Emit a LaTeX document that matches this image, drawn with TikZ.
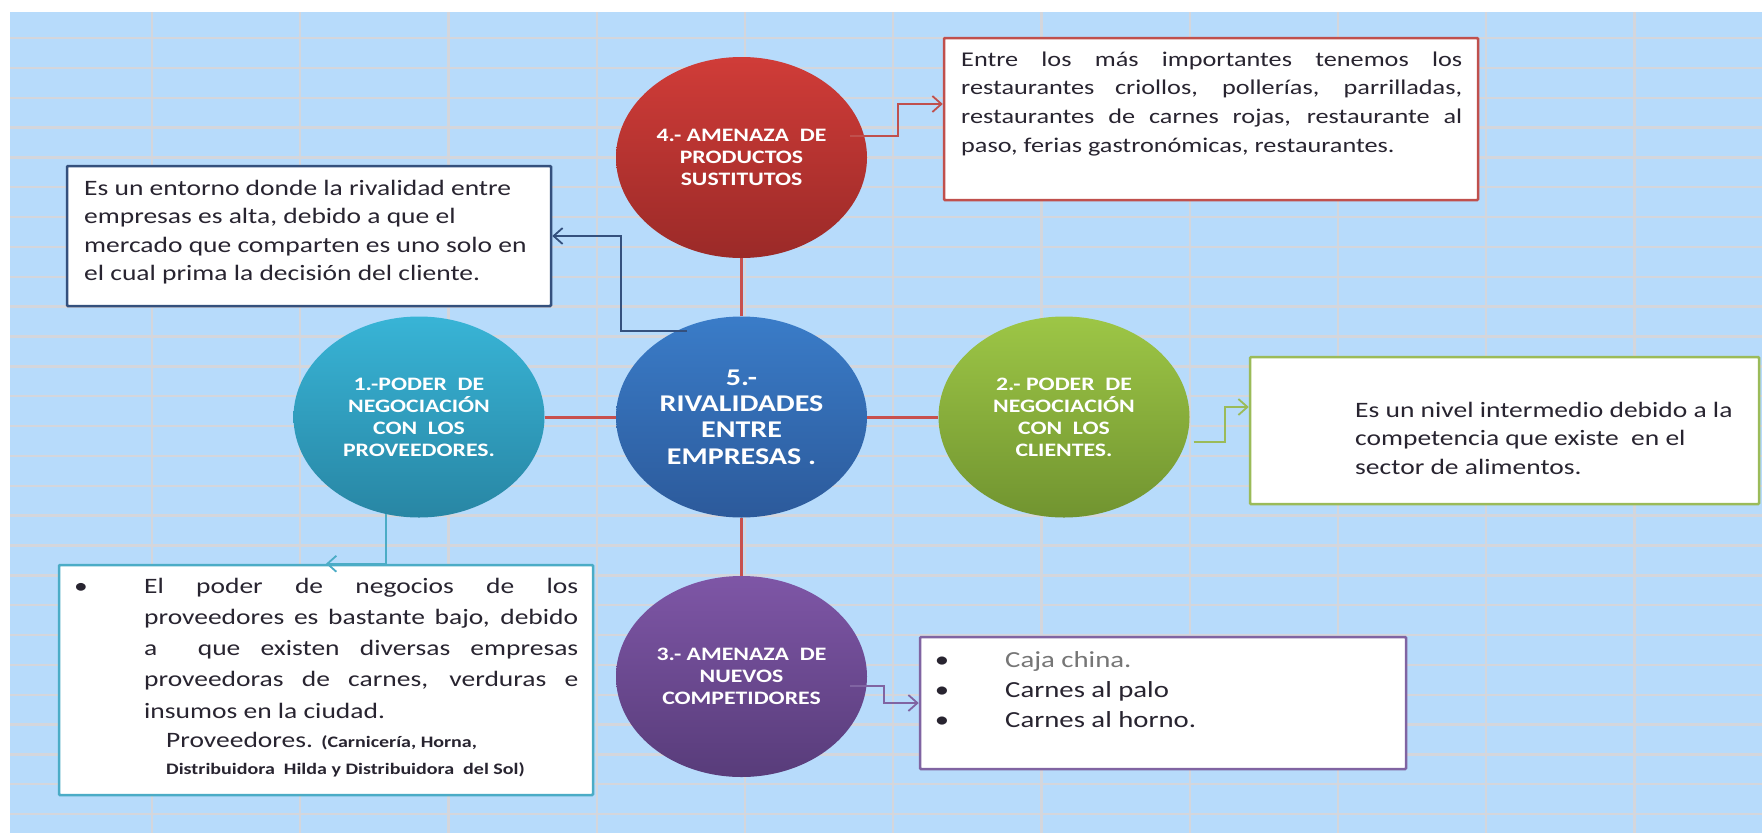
\documentclass[tikz,border=0pt]{standalone}
\usepackage{fontspec}
\setmainfont{Carlito}[FakeStretch=1.25]
\usetikzlibrary{shapes.geometric,arrows.meta,calc}

\definecolor{sheet}{RGB}{183,219,251}
\definecolor{gridgray}{RGB}{212,214,220}
\definecolor{ink}{RGB}{40,36,48}
\definecolor{softgray}{RGB}{118,118,118}
\definecolor{spokered}{RGB}{200,80,77}
\definecolor{redline}{RGB}{192,80,77}
\definecolor{navyline}{RGB}{52,80,125}
\definecolor{tealline}{RGB}{75,172,198}
\definecolor{greenline}{RGB}{155,187,89}
\definecolor{purpleline}{RGB}{128,100,162}
\definecolor{redtop}{RGB}{208,60,56}
\definecolor{redbot}{RGB}{155,42,40}
\definecolor{bluetop}{RGB}{58,124,200}
\definecolor{bluebot}{RGB}{44,90,155}
\definecolor{tealtop}{RGB}{56,180,214}
\definecolor{tealbot}{RGB}{40,134,164}
\definecolor{greentop}{RGB}{157,198,70}
\definecolor{greenbot}{RGB}{113,148,48}
\definecolor{purptop}{RGB}{126,86,166}
\definecolor{purpbot}{RGB}{88,60,122}

\tikzset{
  gridline/.style={draw=gridgray, line width=2.4pt},
  ball/.style={ellipse, minimum width=251pt, minimum height=201pt, inner sep=0pt,
    align=center, text=white, font=\bfseries\fontsize{19}{22}\selectfont},
  card/.style={draw=#1, line width=2.5pt, fill=white, rounded corners=1pt, inner sep=0pt},
  spoke/.style={draw=spokered, line width=3pt},
  link/.style={draw=#1, line width=1.8pt, -{Straight Barb[length=9pt,width=16pt]}},
  txt/.style={inner sep=0pt, text=ink, font=\fontsize{22}{28.5}\selectfont},
  small/.style={inner sep=0pt, text=ink, font=\bfseries\fontsize{16}{18}\selectfont},
}

\begin{document}
\begin{tikzpicture}[x=1pt,y=-1pt]
\useasboundingbox (0,0) rectangle (1762,833);

% spreadsheet background
\fill[white] (0,0) rectangle (1762,833);
\fill[sheet] (10,12) rectangle (1762,833);
\foreach \k in {0,...,10} {\draw[gridline] ({152+148.25*\k},12) -- ({152+148.25*\k},833);}
\foreach \k in {0,...,26} {\draw[gridline] (10,{38+29.85*\k}) -- (1762,{38+29.85*\k});}

% the five forces
\node[ball, top color=redtop, bottom color=redbot] (c4) at (741.5,157.5)
  {4.- AMENAZA~~DE\\PRODUCTOS\\SUSTITUTOS};
\node[ball, top color=bluetop, bottom color=bluebot,
  font=\bfseries\fontsize{24}{26.3}\selectfont] (c5) at (741.5,417)
  {5.-\\RIVALIDADES\\ENTRE\\EMPRESAS .};
\node[ball, top color=tealtop, bottom color=tealbot] (c1) at (419,417)
  {1.-PODER~~DE\\NEGOCIACIÓN\\CON~~LOS\\PROVEEDORES.};
\node[ball, top color=greentop, bottom color=greenbot] (c2) at (1064,417)
  {2.- PODER~~DE\\NEGOCIACIÓN\\CON~~LOS\\CLIENTES.};
\node[ball, top color=purptop, bottom color=purpbot] (c3) at (741.5,676.5)
  {3.- AMENAZA~~DE\\NUEVOS\\COMPETIDORES};

\draw[spoke] (c4) -- (c5);
\draw[spoke] (c1) -- (c5);
\draw[spoke] (c5) -- (c2);
\draw[spoke] (c5) -- (c3);

% description boxes
\node[card=redline, minimum width=534pt, minimum height=162pt] (b4) at (1211,119) {};
\node[card=navyline, minimum width=484pt, minimum height=140pt] (b5) at (309,236) {};
\node[card=greenline, minimum width=509pt, minimum height=147pt] (b2) at (1504.5,430.5) {};
\node[card=tealline, minimum width=534pt, minimum height=230pt] (b1) at (326,680) {};
\node[card=purpleline, minimum width=486pt, minimum height=132pt] (b3) at (1163,703) {};

% box texts
\node[txt, anchor=base west, font=\fontsize{21}{28.7}\selectfont] (t4) at (961,66)
  {\parbox[t]{505pt}{%
  \makebox[501pt][s]{Entre los más importantes tenemos los}\\
  \makebox[501pt][s]{restaurantes criollos, pollerías, parrilladas,}\\
  \makebox[501pt][s]{restaurantes de carnes rojas, restaurante al}\\
  paso, ferias gastronómicas, restaurantes.}};

\node[txt, anchor=base west] (t5) at (84,195)
  {\parbox[t]{460pt}{\raggedright
  Es un entorno donde la rivalidad entre\\
  empresas es alta, debido a que el\\
  mercado que comparten es uno solo en\\
  el cual prima la decisión del cliente.}};

\node[txt, anchor=base west] (t2) at (1355,417)
  {\parbox[t]{400pt}{\raggedright
  Es un nivel intermedio debido a la\\
  competencia que existe~ en el\\
  sector de alimentos.}};

\node[txt, anchor=base] (d1) at (81,593) {•};
\node[txt, anchor=base west, font=\fontsize{22}{31.3}\selectfont] (t1) at (144,593)
  {\parbox[t]{440pt}{%
  \makebox[434pt][s]{El poder de negocios de los}\\
  \makebox[434pt][s]{proveedores es bastante bajo, debido}\\
  \makebox[434pt][s]{a \ que existen diversas empresas}\\
  \makebox[434pt][s]{proveedoras de carnes, verduras e}\\
  insumos en la ciudad.}};
\node[txt, anchor=base west] (t1a) at (166,747)
  {Proveedores. {\bfseries\fontsize{16}{18}\selectfont (Carnicería, Horna,}};
\node[small, anchor=base west] (t1b) at (166,774)
  {Distribuidora~~Hilda y Distribuidora~~del Sol)};

\node[txt, anchor=base, font=\fontsize{23}{30}\selectfont] (d3a) at (942,667) {•};
\node[txt, anchor=base, font=\fontsize{23}{30}\selectfont] (d3b) at (942,697) {•};
\node[txt, anchor=base, font=\fontsize{23}{30}\selectfont] (d3c) at (942,727) {•};
\node[txt, anchor=base west, text=softgray, font=\fontsize{23}{30}\selectfont] (t3a) at (1005,667) {Caja china.};
\node[txt, anchor=base west, font=\fontsize{23}{30}\selectfont] (t3b) at (1005,697) {Carnes al palo};
\node[txt, anchor=base west, font=\fontsize{23}{30}\selectfont] (t3c) at (1005,727) {Carnes al horno.};

% elbow connectors from each force to its box
\draw[link=redline] ([xshift=-17pt,yshift=21.5pt]c4.east) -- ++(48,0) |- ([yshift=15pt]b4.west);
\draw[link=navyline] ([xshift=-54.5pt,yshift=86pt]c5.center) -- ++(-66,0) |- (b5.east);
\draw[link=tealline] ([xshift=-33pt,yshift=4pt]c1.south) |- (b1.north);
\draw[link=greenline] ([xshift=4pt,yshift=-25pt]c2.east) -- ++(31,0) |- ([yshift=23.5pt]b2.west);
\draw[link=purpleline] ([xshift=-17pt,yshift=-9.5pt]c3.east) -- ++(34,0) |- (b3.west);
\end{tikzpicture}
\end{document}
